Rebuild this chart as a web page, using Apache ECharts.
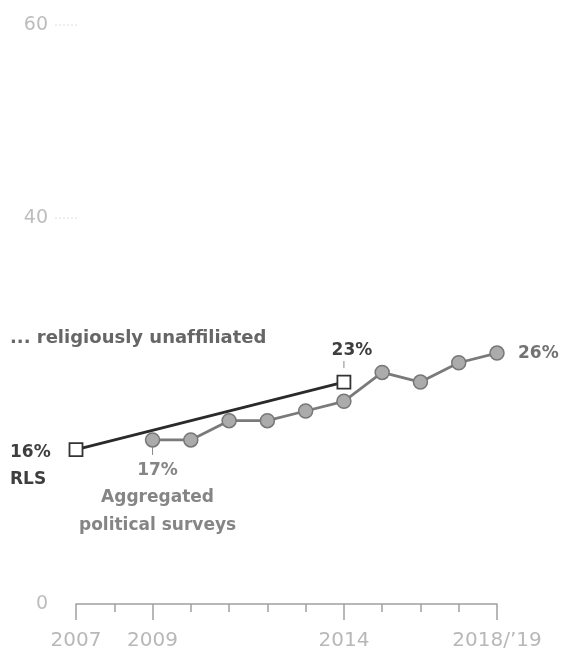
<!DOCTYPE html>
<html>
<head>
<meta charset="utf-8">
<script src="https://cdn.jsdelivr.net/npm/echarts@6/dist/echarts.min.js"></script>
<style>
html,body{margin:0;padding:0;background:#fff;}
#c{width:561px;height:651px;}
</style>
</head>
<body>
<div id="c"></div>
<script>
const years = ['2007','2008','2009','2010','2011','2012','2013','2014','2015','2016','2017',"2018/\u201919"];
const labeledYears = ['2007','2009','2014',"2018/\u201919"];
const rls = [16,null,null,null,null,null,null,23,null,null,null,null];
const aggregated = [null,null,17,17,19,19,20,21,24,23,25,26];
const yLabels = [0,40,60];
const yDashes = [40,60];

const FONT = 'DejaVu Sans';
const chart = echarts.init(document.getElementById('c'), null, {renderer:'canvas'});

chart.setOption({
  animation:false,
  backgroundColor:'#fff',
  grid:{left:76,right:64,top:25,bottom:46,containLabel:false},
  xAxis:[{
    type:'category', data:years, boundaryGap:false,
    axisLine:{show:true,lineStyle:{color:'#a0a0a0',width:1.5}},
    axisTick:{show:true,interval:0,length:8,lineStyle:{color:'#a0a0a0',width:1.5}},
    axisLabel:{show:false},
    splitLine:{show:false}
  },{
    type:'category', data:years, boundaryGap:false, position:'bottom',
    axisLine:{show:false},
    axisTick:{show:true,length:16,interval:(i,v)=>labeledYears.includes(years[i]),lineStyle:{color:'#a0a0a0',width:1.5}},
    axisLabel:{show:true,interval:(i,v)=>labeledYears.includes(years[i]),color:'#b8b8b8',fontSize:20,fontFamily:FONT,margin:27},
    splitLine:{show:false}
  }],
  yAxis:{
    type:'value', min:0, max:60, interval:20,
    axisLine:{show:false}, axisTick:{show:false}, splitLine:{show:false},
    axisLabel:{color:'#bdbdbd',fontSize:19,fontFamily:FONT,margin:28,
      formatter:v=>yLabels.includes(v)?String(v):''}
  },
  series:[{
    name:'Aggregated political surveys', type:'line', data:aggregated, xAxisIndex:0,
    symbol:'circle', symbolSize:14, z:2,
    lineStyle:{color:'#7a7a7a',width:2.8},
    itemStyle:{color:'#ababab',borderColor:'#777',borderWidth:1.5}
  },{
    name:'RLS', type:'line', data:rls, xAxisIndex:0, connectNulls:true,
    symbol:'rect', symbolSize:13, z:3,
    lineStyle:{color:'#2a2a2a',width:2.8},
    itemStyle:{color:'#fff',borderColor:'#333',borderWidth:1.8}
  }]
});

function px(cat,val){return chart.convertToPixel({xAxisIndex:0,yAxisIndex:0},[cat,val]);}
function txt(x,y,t,o){
  return {type:'text',silent:true,style:Object.assign({x:x,y:y,text:t,fontFamily:FONT,fontWeight:'bold',fontSize:17,fill:'#555',align:'left',verticalAlign:'middle'},o||{})};
}
function ln(x1,y1,x2,y2,c){return {type:'line',silent:true,shape:{x1:x1,y1:y1,x2:x2,y2:y2},style:{stroke:c,lineWidth:1}};}

const g = [];
const lastIdx = years.length-1;
const pR0 = px(years[0], rls[0]);
const pR1 = px(years[7], rls[7]);
const pA0 = px(years[2], aggregated[2]);
const pAL = px(years[lastIdx], aggregated[lastIdx]);

g.push(txt(10,338,'... religiously unaf\u200Cfiliated',{fontSize:18,fill:'#666'}));
g.push(txt(pR1[0]+8,pR1[1]-31,rls[7]+'%',{align:'center',fill:'#3e3e3e'}));
g.push(ln(pR1[0],pR1[1]-21,pR1[0],pR1[1]-14,'#888'));
g.push(txt(pAL[0]+21,pAL[1],aggregated[lastIdx]+'%',{fill:'#737373'}));
g.push(txt(10,pR0[1]+3,rls[0]+'%',{fill:'#3e3e3e'}));
g.push(txt(10,pR0[1]+30,'RLS',{fill:'#3e3e3e'}));
g.push(ln(pA0[0],pA0[1]+7,pA0[0],pA0[1]+15,'#888'));
g.push(txt(pA0[0]+5,pA0[1]+31,aggregated[2]+'%',{align:'center',fill:'#858585'}));
g.push(txt(pA0[0]+5,pA0[1]+58,'Aggregated',{align:'center',fill:'#858585'}));
g.push(txt(pA0[0]+5,pA0[1]+86,'political surveys',{align:'center',fill:'#858585'}));
yDashes.forEach(v=>{
  const p = px(years[0], v);
  g.push({type:'line',silent:true,shape:{x1:p[0]-21,y1:p[1],x2:p[0]+2,y2:p[1]},style:{stroke:'#dcdcdc',lineWidth:1,lineDash:[2,2]}});
});
chart.setOption({graphic:g});
</script>
</body>
</html>
